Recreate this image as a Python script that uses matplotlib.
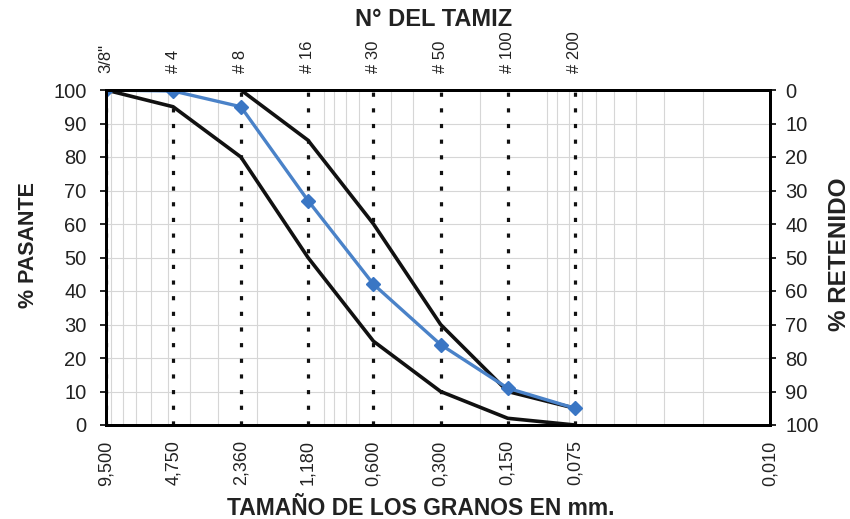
import numpy as np
import matplotlib
matplotlib.use('Agg')
import matplotlib.pyplot as plt
from matplotlib.ticker import LogLocator, NullFormatter

plt.rcParams['font.family'] = ['Liberation Sans', 'DejaVu Sans']

# tamices y aberturas (mm)
tamiz = ['3/8"', '# 4', '# 8', '# 16', '# 30', '# 50', '# 100', '# 200']
abertura = [9.5, 4.75, 2.36, 1.18, 0.6, 0.3, 0.15, 0.075]
xlabels = ['9,500', '4,750', '2,360', '1,180', '0,600', '0,300', '0,150', '0,075', '0,010']
xticks = [9.5, 4.75, 2.36, 1.18, 0.6, 0.3, 0.15, 0.075, 0.01]

# curva de la muestra y limites del huso
pasante = [100, 99.7, 95, 67, 42, 24, 11, 5]
lim_inf = [100, 95, 80, 50, 25, 10, 2, 0]
lim_sup = [100, 100, 100, 85, 60, 30, 10, 5]

W, H = 850, 519
fig = plt.figure(figsize=(8.5, 5.19), dpi=100)
x0, x1, ytop, ybot = 106, 770, 90, 425
ax = fig.add_axes([x0 / W, 1 - ybot / H, (x1 - x0) / W, (ybot - ytop) / H])

ax.set_xscale('log')
ax.set_xlim(9.5, 0.01)
ax.set_ylim(0, 100)

# grilla
ax.xaxis.set_minor_locator(LogLocator(base=10, subs=np.arange(1, 10)))
ax.xaxis.set_minor_formatter(NullFormatter())
ax.grid(True, which='minor', axis='x', color='#d6d6d6', lw=0.8)
ax.set_yticks(np.arange(0, 101, 10))
ax.grid(True, which='major', axis='y', color='#d6d6d6', lw=0.8)
ax.set_axisbelow(True)

for a in abertura:
    ax.plot([a, a], [0, 100], color='#111111', lw=2.3, ls=(0, (1.3, 3.6)),
            dash_capstyle='butt', zorder=2)

ax.plot(abertura, lim_inf, color='#111111', lw=2.6, zorder=3)
ax.plot(abertura, lim_sup, color='#111111', lw=2.6, zorder=3)
ax.plot(abertura, pasante, color='#4a82c8', lw=2.4, marker='D', ms=7.5,
        mfc='#3a76c4', mec='#3a76c4', zorder=4)

ax.set_xticks(xticks)
ax.set_xticklabels(xlabels, rotation=90, fontsize=13, color='#222222')
ax.tick_params(axis='x', which='both', length=0, pad=11)
ax.tick_params(axis='y', labelsize=14.5, length=4, width=1.2, pad=10,
               labelcolor='#222222')
for s in ax.spines.values():
    s.set_linewidth(2)

fig.text(28 / W, 1 - 245 / H, '% PASANTE', rotation=90, fontsize=15.5,
         fontweight='bold', color='#222222', ha='center', va='center')
fig.text(840 / W, 1 - 254 / H, '% RETENIDO', rotation=90, fontsize=17.5,
         fontweight='bold', color='#222222', ha='center', va='center')
fig.text(421 / W, 1 - 515 / H, 'TAMAÑO DE LOS GRANOS EN mm.', fontsize=16.5,
         fontweight='bold', color='#222222', ha='center', va='baseline')
fig.text(434 / W, 1 - 19 / H, 'N° DEL TAMIZ', fontsize=17,
         fontweight='bold', color='#222222', ha='center', va='center')

ax2 = ax.twinx()
ax2.set_ylim(0, 100)
ax2.set_yticks(np.arange(0, 101, 10))
ax2.set_yticklabels([str(100 - v) for v in range(0, 101, 10)])
ax2.tick_params(axis='y', labelsize=14.5, length=4, width=1.2, pad=7,
                labelcolor='#222222')
for s in ax2.spines.values():
    s.set_linewidth(2)

# etiquetas de tamices arriba
ax3 = ax.twiny()
ax3.set_xscale('log')
ax3.set_xlim(9.5, 0.01)
ax3.set_xticks(abertura)
ax3.set_xticklabels(tamiz, rotation=90, fontsize=12, color='#222222')
ax3.xaxis.set_minor_locator(plt.NullLocator())
ax3.tick_params(axis='x', length=0, pad=12)
for s in ax3.spines.values():
    s.set_linewidth(2)

fig.savefig('out.png', dpi=100)
